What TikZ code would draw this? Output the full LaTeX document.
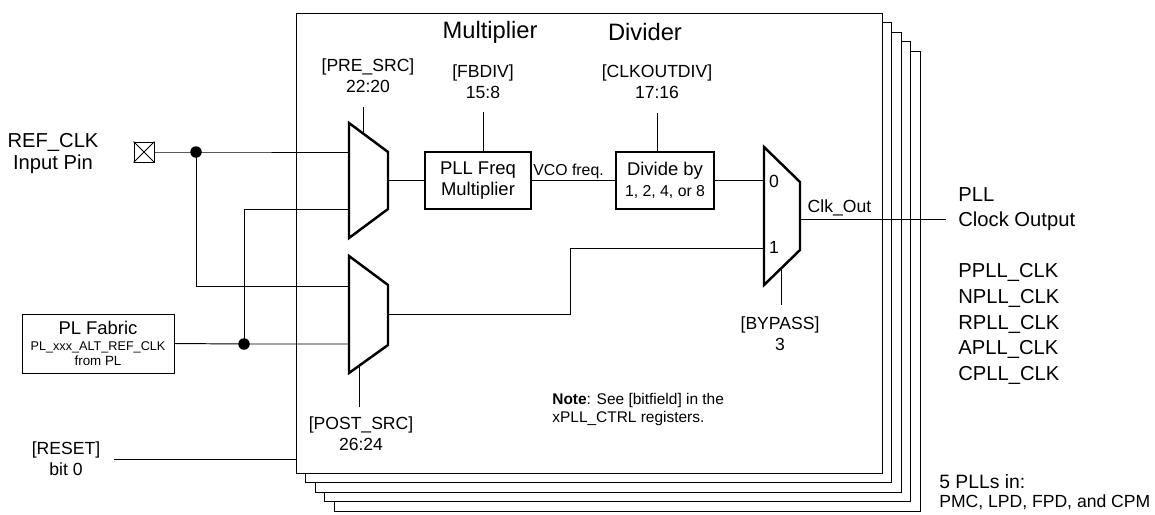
\documentclass[tikz,border=0pt]{standalone}
\usepackage{fontspec}
\setmainfont{Liberation Sans}
\usetikzlibrary{positioning,calc}
\tikzset{
  wire/.style={line width=0.55pt},
  wire-mux/.style={line width=1.4pt,line join=miter},
  node-func/.style={draw,line width=1.4pt,minimum height=1.14cm,align=center,
    inner sep=0pt,font=\fontsize{10.5}{12}\selectfont},
  node-src/.style={draw,line width=0.55pt,minimum width=3.04cm,minimum height=1.18cm,
    align=center,inner sep=0pt,font=\fontsize{7.2}{9}\selectfont},
  node-pin/.style={draw,line width=0.55pt,minimum size=0.4cm,inner sep=0pt},
  node-dot/.style={circle,fill,inner sep=0pt,minimum size=2.3mm},
  lbl-big/.style={align=center,inner sep=0pt,font=\fontsize{11.5}{13}\selectfont},
  lbl-list/.style={align=left,anchor=west,inner sep=0pt,font=\fontsize{11.5}{14.6}\selectfont},
  lbl-title/.style={inner sep=0pt,font=\fontsize{13.5}{15}\selectfont},
  lbl-reg/.style={align=center,inner sep=0pt,font=\fontsize{10}{12}\selectfont},
  lbl-small/.style={inner sep=0pt,font=\fontsize{9}{11}\selectfont},
}
\begin{document}
\begin{tikzpicture}[x=0.02cm,y=-0.02cm]
  \useasboundingbox (0,0) rectangle (1155,514);
  % stack of the 5 PLLs
  \foreach \i in {4,3,2,1}
    \draw[wire,fill=white] (296+9.6*\i,13+9.6*\i) rectangle (882+9.6*\i,473+9.6*\i);
  \draw[wire,fill=white] (296,13) coordinate (pll-nw) rectangle (882,473) coordinate (pll-se);

  \node[lbl-title] (t-mult) at (490,32) {Multiplier};
  \node[lbl-title] (t-div) at (645,32) {Divider};

  % muxes
  \draw[wire-mux] (349,123) -- (388,152) -- (388,209) -- (349,238) -- cycle;
  \draw[wire-mux] (349,256) -- (388,285) -- (388,345) -- (349,373) -- cycle;
  \draw[wire-mux] (764,147) -- (800,182) -- (800,250) -- (764,285) -- cycle;
  \coordinate (m1-in0) at (349,152);
  \coordinate (m1-in1) at (349,209);
  \coordinate (m1-out) at (388,180.5);
  \coordinate (m1-sel) at (363,133.4);
  \coordinate (m2-in0) at (349,286);
  \coordinate (m2-in1) at (349,344);
  \coordinate (m2-out) at (388,314);
  \coordinate (m2-sel) at (359,365.8);
  \coordinate (m3-in0) at (764,180.5);
  \coordinate (m3-in1) at (764,248);
  \coordinate (m3-out) at (800,219);
  \coordinate (m3-sel) at (781,268.5);
  \node[lbl-reg] (m3-0) at (774,181) {0};
  \node[lbl-reg] (m3-1) at (774,247) {1};

  % blocks
  \node[node-func,minimum width=2.12cm] (mult) at (478,180.5) {PLL Freq\\Multiplier};
  \node[node-func,minimum width=1.96cm] (div) at (665,180.5)
    {Divide by\\{\fontsize{9}{11}\selectfont 1, 2, 4, or 8}};
  \node[node-src] (plf) at (98,343.5)
    {{\fontsize{10.5}{12}\selectfont PL Fabric}\\PL\_xxx\_ALT\_REF\_CLK\\{\fontsize{7.6}{9}\selectfont from PL}};

  % inputs
  \node[lbl-big] (ref) at (53,153.5) {REF\_CLK\\Input Pin};
  \node[node-pin] (pin) at (144,152) {};
  \draw[wire] (pin.north west) -- (pin.south east) (pin.north east) -- (pin.south west);
  \node[node-dot] (j-ref) at (196,152) {};
  \node[node-dot] (j-pl) at (244,344) {};
  \draw[wire] (pin.east) -- (j-ref.center) -- (m1-in0);
  \draw[wire] (j-ref.center) |- (m2-in0);
  \draw[wire] (m1-in1) -| (j-pl.center);
  \draw[wire] (plf.east) -- (j-pl.center) -- (m2-in1);

  % data path
  \draw[wire] (m1-out) -- (mult.west);
  \draw[wire] (mult.east) -- node[lbl-small,above=0.6pt,pos=0.44] {VCO freq.} (div.west);
  \draw[wire] (div.east) -- (m3-in0);
  \coordinate (bend) at (570,314);
  \draw[wire] (m2-out) -- (bend) |- (m3-in1);
  \coordinate (clk-out) at (946,219);
  \draw[wire] (m3-out) -- node[lbl-reg,above=1.6pt,pos=0.27] {Clk\_Out} (clk-out);

  % register fields
  \node[lbl-reg] (pre) at (368,75.5) {[PRE\_SRC]\\22:20};
  \coordinate (pre-top) at (363,107);
  \draw[wire] (pre-top) -- (m1-sel);
  \node[lbl-reg] (fbdiv) at (483,82) {[FBDIV]\\15:8};
  \coordinate (fbdiv-top) at (483,112);
  \draw[wire] (fbdiv-top) -- (fbdiv-top |- mult.north);
  \node[lbl-reg] (clkdiv) at (657,82) {[CLKOUTDIV]\\17:16};
  \coordinate (clkdiv-top) at (657,113);
  \draw[wire] (clkdiv-top) -- (clkdiv-top |- div.north);
  \node[lbl-reg] (bypass) at (780,334) {[BYPASS]\\3};
  \coordinate (bypass-end) at (781,305);
  \draw[wire] (m3-sel) -- (bypass-end);
  \node[lbl-reg] (post) at (361,434) {[POST\_SRC]\\26:24};
  \coordinate (post-end) at (359,407);
  \draw[wire] (m2-sel) -- (post-end);
  \node[lbl-reg] (rst) at (66,459) {[RESET]\\bit 0};
  \coordinate (rst-end) at (114,459);
  \draw[wire] (rst-end) -- (rst-end -| pll-nw);

  \node[align=left,anchor=west,inner sep=0pt,font=\fontsize{8.8}{10.8}\selectfont] (note) at (552,409.5)
    {\textbf{Note}: See [bitfield] in the\\xPLL\_CTRL registers.};

  % outputs
  \node[lbl-list] (pll-out) at (958,209) {PLL\\Clock Output};
  \node[lbl-list] (clks) at (958,324) {PPLL\_CLK\\NPLL\_CLK\\RPLL\_CLK\\APLL\_CLK\\CPLL\_CLK};
  \node[lbl-list,font=\fontsize{11}{13}\selectfont] (n-pll) at (939,482) {5 PLLs in:};
  \node[lbl-list,font=\fontsize{10}{12}\selectfont] (domains) at (939,502) {PMC, LPD, FPD, and CPM};
\end{tikzpicture}
\end{document}
